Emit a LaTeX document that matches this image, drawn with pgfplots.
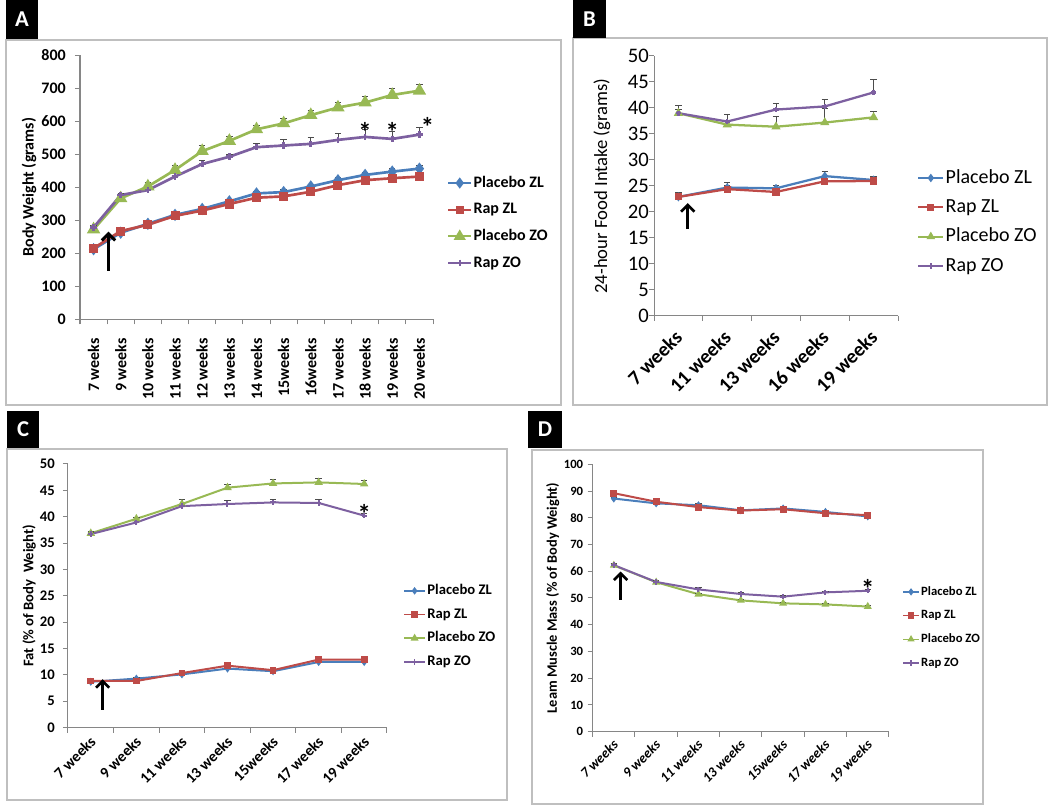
\documentclass[border=0pt]{standalone}
\usepackage{fontspec}
\setmainfont{Carlito}
\usepackage{pgfplots}
\usepackage{pgfplotstable}
\pgfplotsset{compat=1.18}
\usetikzlibrary{arrows.meta}

\definecolor{cB}{HTML}{4A7EBB}
\definecolor{cR}{HTML}{BE4B48}
\definecolor{cG}{HTML}{98B954}
\definecolor{cP}{HTML}{7D60A0}
\definecolor{axgray}{HTML}{868686}
\definecolor{frgray}{HTML}{BFBFBF}

\pgfplotstableread{
x pzl epzl rzl erzl pzo epzo rzo erzo
0 212 4 215 3 272 4 278 5
1 262 5 267 4 366 6 376 6
2 289 5 286 4 402 12 391 5
3 316 6 313 4 452 15 432 5
4 334 5 329 4 509 18 470 10
5 357 6 349 5 540 13 492 8
6 381 7 368 5 575 12 521 12
7 385 7 372 5 593 14 526 17
8 402 7 386 5 618 15 531 19
9 421 7 406 5 641 16 543 19
10 437 8 421 5 656 18 552 23
11 447 9 427 5 679 20 546 22
12 456 10 432 5 692 20 559 21
}\tA
\pgfplotstableread{
x pzl epzl rzl erzl pzo epzo rzo erzo
0 22.9 0.8 22.9 0.8 39.0 0.8 39.0 1.5
1 24.7 0.9 24.4 0.8 36.8 0.7 37.4 1.4
2 24.55 0.5 23.85 0.5 36.4 1.9 39.7 1.1
3 26.9 1.0 25.9 0.6 37.2 2.8 40.3 1.4
4 26.15 0.75 25.96 0.5 38.2 1.1 43.0 2.5
}\tB
\pgfplotstableread{
x pzl epzl rzl erzl pzo epzo rzo erzo
0 8.7 0.3 8.85 0.3 36.85 0.4 36.7 0.4
1 9.3 0.3 8.85 0.3 39.6 0.3 38.9 0.3
2 10.1 0.3 10.35 0.3 42.4 0.9 42.0 0.4
3 11.2 0.3 11.75 0.4 45.5 0.6 42.4 0.6
4 10.7 0.3 10.9 0.3 46.3 0.7 42.7 0.6
5 12.45 0.3 12.9 0.4 46.5 0.7 42.6 0.6
6 12.45 0.3 12.9 0.3 46.2 0.7 40.2 0.4
}\tC
\pgfplotstableread{
x pzl epzl rzl erzl pzo epzo rzo erzo
0 87.2 0.6 89.2 0.6 62.2 0.6 62.3 0.6
1 85.4 0.5 86.0 0.5 55.9 0.5 56.0 0.5
2 84.7 0.5 84.0 0.5 51.4 0.5 53.2 0.6
3 82.8 0.5 82.7 0.5 49.1 0.5 51.5 0.5
4 83.5 0.5 83.2 0.5 48.0 0.5 50.5 0.5
5 82.2 0.5 81.7 0.5 47.6 0.5 52.1 0.5
6 80.5 0.5 81.0 0.5 46.8 0.5 52.7 0.5
}\tD

\pgfplotsset{
  panel/.style={
    scale only axis,
    axis x line*=bottom, axis y line*=left,
    axis line style={axgray, line width=0.75pt},
    tick style={axgray, line width=0.75pt},
    tick align=outside, major tick length=3.75pt,
    /pgf/number format/assume math mode=true,
    clip=false,
    legend cell align=left,
    xticklabels={},
    extra x tick style={major tick length=0pt},
    yticklabel style={inner sep=0pt},
    every axis y label/.style={rotate=90, anchor=center},
  },
  eb/.style={error bars/.cd, y dir=plus, y explicit,
    error bar style={black!70, line width=0.6pt, solid},
    error mark options={rotate=90, black!70, mark size=2.4pt, line width=0.6pt}},
  sB/.style={cB, mark=diamond*, mark options={solid, fill=cB}},
  sR/.style={cR, mark=square*, mark options={solid, fill=cR}},
  sG/.style={cG, mark=triangle*, mark options={solid, fill=cG}},
  sP/.style={cP, mark=+, mark options={solid}},
}

\begin{document}
\begin{tikzpicture}
\path[use as bounding box] (0,0) rectangle (787.5pt,605.25pt);
% panel frames
\draw[frgray, line width=1.1pt] (4.5pt,301.5pt) rectangle (420.75pt,575.25pt);
\draw[frgray, line width=1.1pt] (429.75pt,301.5pt) rectangle (785.25pt,576.75pt);
\draw[frgray, line width=1.1pt] (5.25pt,5.25pt) rectangle (380.25pt,268.5pt);
\draw[frgray, line width=1.1pt] (399pt,2.25pt) rectangle (737.25pt,267.75pt);
% panel letters
\node[fill=black, text=white, font=\bfseries\fontsize{17}{17}\selectfont, minimum width=24pt, minimum height=29.25pt, inner sep=0pt] at (16.5pt,590.6pt) {A};
\node[fill=black, text=white, font=\bfseries\fontsize{17}{17}\selectfont, minimum width=24.75pt, minimum height=28.5pt, inner sep=0pt] at (442.1pt,591pt) {B};
\node[fill=black, text=white, font=\bfseries\fontsize{17}{17}\selectfont, minimum width=24pt, minimum height=27.75pt, inner sep=0pt] at (17.25pt,283.1pt) {C};
\node[fill=black, text=white, font=\bfseries\fontsize{17}{17}\selectfont, minimum width=25.5pt, minimum height=27.75pt, inner sep=0pt] at (408.75pt,283.1pt) {D};

% ---------------- A ----------------
\begin{axis}[panel, at={(60pt,365.8pt)}, anchor=south west,
  width=264.75pt, height=198.2pt,
  xmin=-0.5, xmax=12.5, ymin=0, ymax=800,
  xtick={-0.5,0.5,...,12.5},
  extra x ticks={0,...,12},
  extra x tick labels={7 weeks,9 weeks,10 weeks,11 weeks,12 weeks,13 weeks,14 weeks,15weeks,16weeks,17 weeks,18 weeks,19 weeks,20 weeks},
  xticklabel style={yshift=-14pt, rotate=90, anchor=east, inner sep=0pt, font=\bfseries\fontsize{12}{14}\selectfont},
  ytick={0,100,...,800},
  yticklabel style={xshift=-6.75pt, font=\bfseries\fontsize{12}{14}\selectfont},
  ylabel={Body Weight (grams)},
  ylabel style={at={(axis description cs:-0.1445,0.5)}, font=\bfseries\fontsize{12}{14}\selectfont},
  every axis plot/.append style={line width=2pt},
  legend image code/.code={\draw[mark repeat=2,mark phase=2,line width=1.5pt] plot coordinates {(0pt,0pt) (8.6pt,0pt) (17.2pt,0pt)};},
  legend style={draw=none, fill=none, at={(1.0397,0.364)}, anchor=west, inner sep=0pt,
    font=\bfseries\fontsize{12}{14}\selectfont, row sep=8pt,
    nodes={inner xsep=1pt, inner ysep=0pt, text height=9pt, text depth=3pt}},
]
\addplot+[sB, mark size=3pt, eb] table[x=x, y=pzl, y error=epzl]{\tA};
\addplot+[sR, mark size=2.4pt, eb] table[x=x, y=rzl, y error=erzl]{\tA};
\addplot+[sG, mark size=3.8pt, eb] table[x=x, y=pzo, y error=epzo]{\tA};
\addplot+[sP, mark size=2.5pt, eb] table[x=x, y=rzo, y error=erzo]{\tA};
\legend{Placebo ZL, Rap ZL, Placebo ZO, Rap ZO}
\node[font=\bfseries\fontsize{20}{20}\selectfont, yshift=-4pt] at (axis cs:10,583) {*};
\node[font=\bfseries\fontsize{20}{20}\selectfont, yshift=-4pt] at (axis cs:11,583) {*};
\node[font=\bfseries\fontsize{20}{20}\selectfont, yshift=-4pt] at (axis cs:12.3,597) {*};
\draw[black, line width=2.2pt, -{Straight Barb[length=5pt, width=10pt]}] (axis cs:0.55,147) -- (axis cs:0.55,265);
\end{axis}

% ---------------- B ----------------
\begin{axis}[panel, at={(490.5pt,368.25pt)}, anchor=south west,
  width=183pt, height=195pt,
  xmin=-0.5, xmax=4.5, ymin=0, ymax=50,
  xtick={-0.5,0.5,...,4.5},
  extra x ticks={0,...,4},
  extra x tick labels={7 weeks,11 weeks,13 weeks,16 weeks,19 weeks},
  xticklabel style={xshift=-3.6pt, yshift=-9.5pt, rotate=45, anchor=north east, inner sep=0pt, font=\bfseries\fontsize{15}{17}\selectfont},
  ytick={0,5,...,50},
  yticklabel style={xshift=0pt, font=\fontsize{15.5}{17}\selectfont},
  ylabel={24-hour Food Intake (grams)},
  ylabel style={at={(axis description cs:-0.214,0.5)}, font=\fontsize{14}{16}\selectfont},
  every axis plot/.append style={line width=1.7pt},
  legend image code/.code={\draw[mark repeat=2,mark phase=2,line width=1.5pt] plot coordinates {(0pt,0pt) (9.4pt,0pt) (18.8pt,0pt)};},
  legend style={draw=none, fill=none, at={(1.078,0.3615)}, anchor=west, inner sep=0pt,
    font=\fontsize{15}{17}\selectfont, row sep=7.5pt,
    nodes={inner xsep=1pt, inner ysep=0pt, text height=11pt, text depth=3.5pt}},
]
\addplot+[sB, mark size=2pt, eb] table[x=x, y=pzl, y error=epzl]{\tB};
\addplot+[sR, mark size=1.8pt, eb] table[x=x, y=rzl, y error=erzl]{\tB};
\addplot+[sG, mark size=2.3pt, eb] table[x=x, y=pzo, y error=epzo]{\tB};
\addplot+[sP, mark size=2pt, eb] table[x=x, y=rzo, y error=erzo]{\tB};
\legend{Placebo ZL, Rap ZL, Placebo ZO, Rap ZO}
\draw[black, line width=2pt, -{Straight Barb[length=5pt, width=10pt]}] (axis cs:0.19,16.7) -- (axis cs:0.19,21.7);
\end{axis}

% ---------------- C ----------------
\begin{axis}[panel, at={(51pt,59.5pt)}, anchor=south west,
  width=239.25pt, height=197.8pt,
  xmin=-0.5, xmax=6.5, ymin=0, ymax=50,
  xtick={-0.5,0.5,...,6.5},
  extra x ticks={0,...,6},
  extra x tick labels={7 weeks,9 weeks,11 weeks,13 weeks,15weeks,17 weeks,19 weeks},
  xticklabel style={xshift=-1.3pt, yshift=-5.5pt, rotate=45, anchor=north east, inner sep=0pt, font=\bfseries\fontsize{11.5}{13}\selectfont},
  ytick={0,5,...,50},
  yticklabel style={xshift=-6pt, font=\bfseries\fontsize{11}{13}\selectfont},
  ylabel={Fat (\% of Body\ \ Weight)},
  ylabel style={at={(axis description cs:-0.122,0.5)}, font=\bfseries\fontsize{11}{13}\selectfont},
  every axis plot/.append style={line width=1.5pt},
  legend image code/.code={\draw[mark repeat=2,mark phase=2,line width=1.3pt] plot coordinates {(0pt,0pt) (7.9pt,0pt) (15.8pt,0pt)};},
  legend style={draw=none, fill=none, at={(1.05,0.3838)}, anchor=west, inner sep=0pt,
    font=\bfseries\fontsize{11}{13}\selectfont, row sep=7.3pt,
    nodes={inner xsep=1pt, inner ysep=0pt, text height=8pt, text depth=2.5pt}},
]
\addplot+[sB, mark size=1.8pt, eb] table[x=x, y=pzl, y error=epzl]{\tC};
\addplot+[sR, mark size=1.8pt, eb] table[x=x, y=rzl, y error=erzl]{\tC};
\addplot+[sG, mark size=2.2pt, eb] table[x=x, y=pzo, y error=epzo]{\tC};
\addplot+[sP, mark size=2pt, eb] table[x=x, y=rzo, y error=erzo]{\tC};
\legend{Placebo ZL, Rap ZL, Placebo ZO, Rap ZO}
\node[font=\bfseries\fontsize{20}{20}\selectfont, yshift=-4pt] at (axis cs:6,41.6) {*};
\draw[black, line width=2pt, -{Straight Barb[length=5pt, width=10pt]}] (axis cs:0.26,3.35) -- (axis cs:0.26,9.2);
\end{axis}

% ---------------- D ----------------
\begin{axis}[panel, at={(444.5pt,56.5pt)}, anchor=south west,
  width=222.2pt, height=200.5pt,
  xmin=-0.5, xmax=6.5, ymin=0, ymax=100,
  xtick={-0.5,0.5,...,6.5},
  extra x ticks={0,...,6},
  extra x tick labels={7 weeks,9 weeks,11 weeks,13 weeks,15weeks,17 weeks,19 weeks},
  xticklabel style={xshift=-1.35pt, yshift=-5.2pt, rotate=45, anchor=north east, inner sep=0pt, font=\bfseries\itshape\fontsize{10.5}{12}\selectfont},
  ytick={0,10,...,100},
  yticklabel style={xshift=-3.2pt, font=\bfseries\fontsize{9.5}{11}\selectfont},
  ylabel={Leam Muscle Mass (\% of Body Weight)},
  ylabel style={at={(axis description cs:-0.135,0.5)}, font=\bfseries\fontsize{10.8}{12}\selectfont},
  every axis plot/.append style={line width=1.5pt},
  legend image code/.code={\draw[mark repeat=2,mark phase=2,line width=1.2pt] plot coordinates {(0pt,0pt) (6pt,0pt) (12pt,0pt)};},
  legend style={draw=none, fill=none, at={(1.044,0.3897)}, anchor=west, inner sep=0pt,
    font=\bfseries\fontsize{9.5}{11}\selectfont, row sep=8.8pt,
    nodes={inner xsep=1pt, inner ysep=0pt, text height=7pt, text depth=2pt}},
]
\addplot+[sB, mark size=1.8pt, eb] table[x=x, y=pzl, y error=epzl]{\tD};
\addplot+[sR, mark size=1.8pt, eb] table[x=x, y=rzl, y error=erzl]{\tD};
\addplot+[sG, mark size=2pt, eb] table[x=x, y=pzo, y error=epzo]{\tD};
\addplot+[sP, mark size=2pt, eb] table[x=x, y=rzo, y error=erzo]{\tD};
\legend{Placebo ZL, Rap ZL, Placebo ZO, Rap ZO}
\node[font=\bfseries\fontsize{20}{20}\selectfont, yshift=-4pt] at (axis cs:6,55.3) {*};
\draw[black, line width=2pt, -{Straight Barb[length=5pt, width=10pt]}] (axis cs:0.16,49.3) -- (axis cs:0.16,59.9);
\end{axis}
\end{tikzpicture}
\end{document}
